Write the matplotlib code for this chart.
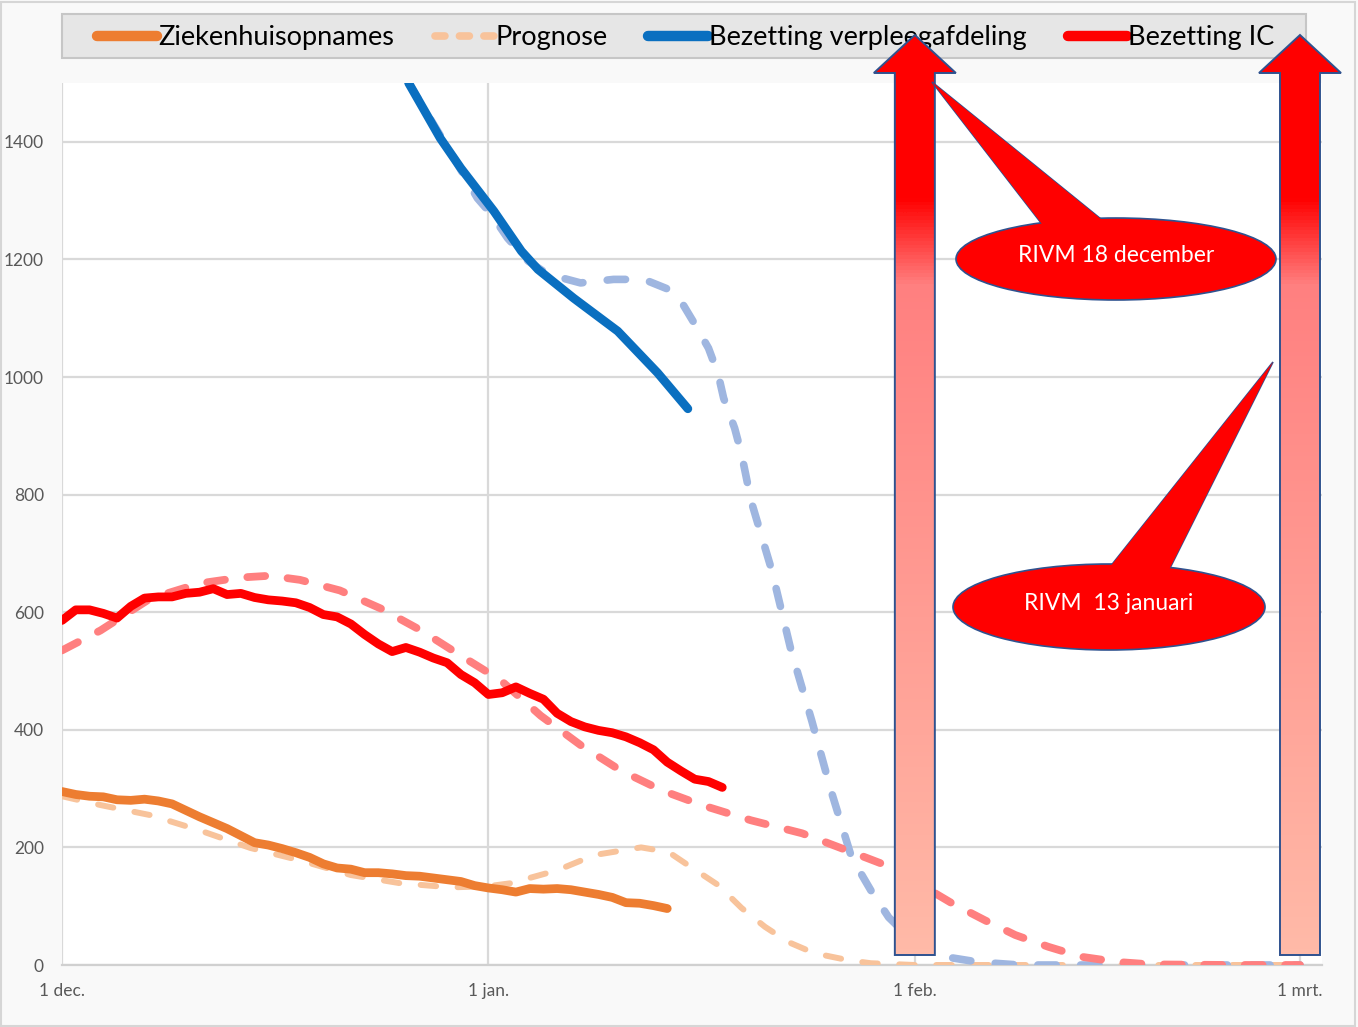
import matplotlib.pyplot as plt
import numpy as np
from matplotlib.patches import Polygon, Ellipse, Rectangle
from matplotlib.colors import LinearSegmentedColormap

W, H = 1358, 1027

# dagen geteld vanaf 1 december
opname_dag = list(range(45))
opname = [295, 290, 287, 286, 281, 280, 282, 279, 274, 263, 252, 242, 232, 220, 208,
          204, 198, 191, 183, 172, 165, 163, 157, 157, 155, 152, 151, 148, 145, 142,
          135, 131, 128, 124, 130, 129, 130, 128, 124, 120, 115, 106, 105, 101, 96]

opname_prog_dag = [0, 2.8, 6.4, 10, 13.7, 17.3, 21, 24.6, 28.3, 31, 32.6, 36, 38.7, 42.1,
                   44.1, 45.5, 47.7, 49.4, 51.1, 52.8, 54.7, 57.2, 58.8, 62, 70, 80, 90]
opname_prog = [287, 272, 255, 229, 199, 178, 153, 139, 132, 134, 139, 161, 187, 200,
               192, 170, 136, 97, 65, 39, 20, 8, 3, 0, 0, 0, 0]

ic_dag = list(range(49))
ic = [586, 604, 604, 598, 590, 610, 624, 626, 626, 632, 634, 640, 630, 632, 625,
      621, 619, 616, 608, 596, 592, 580, 562, 546, 533, 540, 532, 522, 514, 494,
      480, 460, 463, 473, 462, 452, 428, 414, 405, 399, 395, 388, 378, 366, 345,
      330, 316, 312, 302]

ic_prog_dag = [0, 2.8, 6.4, 10, 13, 15.1, 17.3, 20.2, 23.2, 26.1, 29, 31.9, 34.8, 37.7,
               40.6, 43.6, 46.5, 50.1, 53.8, 57.4, 60.3, 64.7, 67.1, 69.3, 71.7, 74.1,
               76.8, 79.2, 85, 90]
ic_prog = [535, 569, 623, 649, 659, 662, 655, 637, 606, 569, 526, 484, 424, 374,
           331, 297, 272, 246, 224, 192, 166, 105, 76, 51, 31, 14, 5, 1, 0, 0]

verpl_dag = [25.2, 27.5, 29, 31.4, 33.4, 34.6, 37.2, 40.4, 43.3, 45.5]
verpl = [1500, 1406, 1355, 1282, 1214, 1183, 1134, 1078, 1007, 946]

verpl_prog_dag = [25.2, 28.5, 30.2, 31.2, 32.4, 33.9, 35.3, 37.7, 40.1, 42.3, 44.1, 45,
                  46, 47, 47.7, 48.1, 48.9, 49.4, 50.1, 51.6, 53, 54.5, 55.9, 57.4,
                  58.8, 60.1, 62.3, 64.2, 66.6, 69.6, 80, 90]
verpl_prog = [1500, 1372, 1304, 1277, 1236, 1197, 1175, 1160, 1166, 1166, 1149, 1129,
              1090, 1049, 1005, 964, 913, 869, 789, 671, 535, 416, 297, 183,
              127, 81, 31, 14, 5, 0, 0, 0]

tick_dagen = [0, 31, 62, 90]
tick_labels = ['1 dec.', '1 jan.', '1 feb.', '1 mrt.']
y_ticks = [0, 200, 400, 600, 800, 1000, 1200, 1400]

fig = plt.figure(figsize=(W / 100, H / 100), dpi=100, facecolor='#f9f9f9')
fig.patches.append(Rectangle((0.001, 0.001), 0.997, 0.997, transform=fig.transFigure,
                             facecolor='none', edgecolor='#d6d6d6', lw=1.5, zorder=-2))
# legenda-kader
fig.patches.append(Rectangle((62 / W, 1 - 58 / H), 1244 / W, 44 / H, transform=fig.transFigure,
                             facecolor='#e6e6e6', edgecolor='#c6c6c6', lw=1.5, zorder=-1))

ax = fig.add_axes([62 / W, (H - 965) / H, 1260 / W, 882 / H])
ax.set_xlim(0, 91.6)
ax.set_ylim(0, 1500)

# prognoses (gestippeld)
l_op, = ax.plot(opname_prog_dag, opname_prog, color='#f8c39b', lw=4.3,
                dashes=(2.6, 3.6), dash_capstyle='round', zorder=3)
ax.plot(verpl_prog_dag, verpl_prog, color='#9fb6e0', lw=5.5,
        dashes=(2.4, 3.2), dash_capstyle='round', zorder=3)
ax.plot(ic_prog_dag, ic_prog, color='#ff7f7f', lw=5.6,
        dashes=(2.3, 2.9), dash_capstyle='round', zorder=3)

# werkelijke cijfers
l_o, = ax.plot(opname_dag, opname, color='#ed7d31', lw=6.3, solid_capstyle='round', zorder=4)
l_b, = ax.plot(verpl_dag, verpl, color='#0a6fc0', lw=6.3, solid_capstyle='round', zorder=4)
l_r, = ax.plot(ic_dag, ic, color='#ff0000', lw=6.3, solid_capstyle='round', zorder=4)

ax.set_xticks(tick_dagen)
ax.set_xticklabels(tick_labels)
ax.set_yticks(y_ticks)
ax.tick_params(length=0, labelsize=12.5, labelcolor='#595959', pad=13)
for lab in ax.get_xticklabels() + ax.get_yticklabels():
    lab.set_family('Lato')
ax.grid(True, color='#d9d9d9', lw=1.6)
ax.set_axisbelow(True)
for s in ['top', 'right', 'left']:
    ax.spines[s].set_visible(False)
ax.spines['bottom'].set_color('#d0d0d0')
ax.spines['bottom'].set_linewidth(1.6)

leg = ax.legend([l_o, l_op, l_b, l_r],
                ['Ziekenhuisopnames', 'Prognose', 'Bezetting verpleegafdeling', 'Bezetting IC'],
                loc='center', bbox_to_anchor=(686 / W, 1 - 38 / H), bbox_transform=fig.transFigure,
                ncol=4, frameon=False, handlelength=2.2, handletextpad=0.05,
                columnspacing=1.5, prop=dict(family='Lato', size=19.5))
for i, ln in enumerate(leg.get_lines()):
    if i == 1:
        ln.set_linewidth(5.5)
        ln.set_dashes((1.3, 1.9))
    else:
        ln.set_linewidth(7.5)

# overlay in pixels voor pijlen en tekstballonnen
ov = fig.add_axes([0, 0, 1, 1], zorder=10)
ov.set_xlim(0, W)
ov.set_ylim(H, 0)
ov.axis('off')
ov.patch.set_alpha(0)

grad = LinearSegmentedColormap.from_list('pijl', [(0, '#ff0000'), (0.175, '#ff0000'),
                                                 (0.27, '#ff8080'), (1, '#ffbaa8')])
for dag in [62, 90]:
    xc = ax.transData.transform((dag, 0))[0]
    top, base, bot = 35, 73, 955
    pts = [(xc - 20, bot), (xc - 20, base), (xc - 41, base), (xc, top),
           (xc + 41, base), (xc + 20, base), (xc + 20, bot)]
    poly = Polygon(pts, closed=True, facecolor='none', edgecolor='#2f528f', lw=1.4, zorder=3)
    ov.add_patch(poly)
    im = ov.imshow(np.linspace(0, 1, 200).reshape(-1, 1), cmap=grad, aspect='auto',
                   extent=[xc - 41, xc + 41, bot, top], zorder=2, interpolation='bilinear')
    im.set_clip_path(poly)
ov.set_xlim(0, W)
ov.set_ylim(H, 0)

callouts = [((1116, 259), 320, 82, [(1045, 228), (932, 82), (1107, 224)], 'RIVM 18 december'),
            ((1109, 607), 312, 86, [(1106, 572), (1273, 362), (1168, 572)], 'RIVM  13 januari')]
for (cx, cy), w, h, wedge, txt in callouts:
    ov.add_patch(Polygon(wedge, closed=True, facecolor='#ff0000', edgecolor='#2f528f', lw=1.2, zorder=4))
    ov.add_patch(Ellipse((cx, cy), w, h, facecolor='#ff0000', edgecolor='#2f528f', lw=1.2, zorder=5))
    ov.add_patch(Polygon(wedge, closed=True, facecolor='#ff0000', edgecolor='none', zorder=6))
    ov.text(cx, cy - 3, txt, color='white', fontsize=16.5, family='Lato',
            ha='center', va='center', zorder=7)

fig.savefig('out.png', dpi=100, facecolor=fig.get_facecolor())
